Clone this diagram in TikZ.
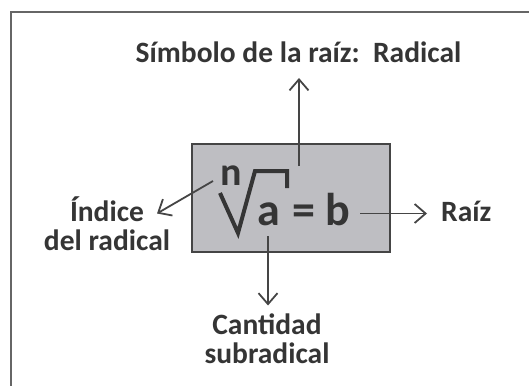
\documentclass[tikz,border=0pt]{standalone}
\usepackage{fontspec}
\setmainfont{Carlito}
\usetikzlibrary{arrows.meta}
\definecolor{txt}{HTML}{353535}
\definecolor{ln}{HTML}{454545}
\definecolor{boxfill}{HTML}{BEBEC2}
\definecolor{frame}{HTML}{666666}
\begin{document}
\begin{tikzpicture}[x=1pt,y=-1pt,
  lbl/.style={font=\fontsize{29.5}{29}\selectfont\bfseries, text=txt, inner sep=0pt, align=center},
  frm/.style={font=\fontsize{46}{46}\selectfont\bfseries, text=txt, inner sep=0pt, anchor=base},
  arr/.style={draw=ln, line width=1.8pt, -{Straight Barb[length=11pt,width=19pt,line width=1.8pt]}},
]
\useasboundingbox (0,0) rectangle (529,385);
% frame
\draw[frame, line width=2.5pt] (11,390) -- (11,12) -- (535,12);
% box
\node[draw=ln, fill=boxfill, line width=2pt, minimum width=197.5pt, minimum height=108pt, inner sep=0pt] (box) at (291.2,197.6) {};
% formula
\node[frm] (a) at (268.5,225) {a};
\node[frm] (eq) at (304,225) {=};
\node[frm] (b) at (338,225) {b};
\node[frm, font=\fontsize{40}{40}\selectfont\bfseries] (n) at (231,185) {n};
\draw[txt, line width=4pt, line join=miter, line cap=butt] (220,193) -- (238,233) -- (255,171) -- (287,171) -- (287,188);
% labels
\node[lbl, anchor=base] (title) at (298.5,63) {Símbolo de la raíz:\ \ Radical};
\node[lbl, anchor=base] (indice) at (107,250) {Índice\\del radical};
\node[lbl, anchor=base west] (raiz) at (441,221) {Raíz};
\node[lbl, anchor=base] (cant) at (267,363) {Cantidad\\subradical};
% connectors
\coordinate (upS) at (299,166);
\coordinate (upE) at (299,78);
\coordinate (dnS) at (268,236);
\coordinate (dnE) at (268,305.5);
\coordinate (rtS) at (360,213.5);
\coordinate (rtE) at (427,213.5);
\coordinate (dgS) at (213,181);
\coordinate (dgE) at (157,213.5);
\draw[arr] (upS) -- (upE);
\draw[arr] (dnS) -- (dnE);
\draw[arr] (rtS) -- (rtE);
\draw[arr] (dgS) -- (dgE);
\end{tikzpicture}
\end{document}
